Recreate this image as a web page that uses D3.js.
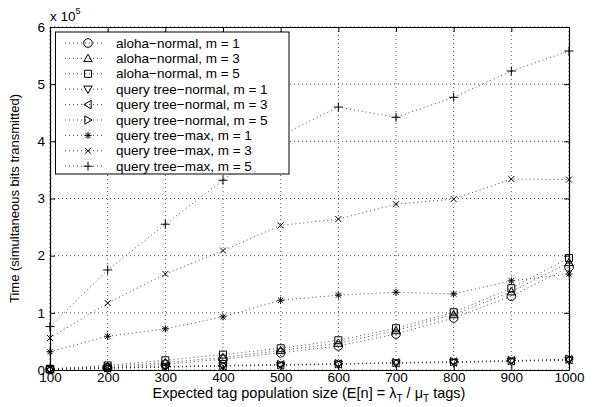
<!DOCTYPE html>
<html>
<head>
<meta charset="utf-8">
<script src="https://cdn.jsdelivr.net/npm/d3@7"></script>
<style>
  body { margin: 0; background: #fff; }
  svg { font-family: "Liberation Sans", Arial, sans-serif; }
</style>
</head>
<body>
<svg id="chart"></svg>
<script>
// tag population sizes (x)
let xValues = [100, 200, 300, 400, 500, 600, 700, 800, 900, 1000]
let xTicks = [100, 200, 300, 400, 500, 600, 700, 800, 900, 1000]
let yTicks = [0, 1, 2, 3, 4, 5, 6]   // x 10^5

// values in units of 10^5
let alohaM1 = [0.01, 0.04, 0.10, 0.19, 0.30, 0.42, 0.63, 0.91, 1.29, 1.80]
let alohaM3 = [0.015, 0.06, 0.13, 0.22, 0.34, 0.47, 0.69, 0.97, 1.37, 1.88]
let alohaM5 = [0.02, 0.08, 0.17, 0.27, 0.38, 0.52, 0.73, 1.01, 1.43, 1.96]
let qtNormM1 = [0.005, 0.03, 0.05, 0.07, 0.08, 0.10, 0.12, 0.13, 0.15, 0.17]
let qtNormM3 = [0.01, 0.035, 0.055, 0.075, 0.09, 0.105, 0.125, 0.14, 0.16, 0.18]
let qtNormM5 = [0.015, 0.04, 0.06, 0.08, 0.095, 0.11, 0.13, 0.145, 0.165, 0.19]
let qtMaxM1 = [0.32, 0.59, 0.72, 0.93, 1.22, 1.31, 1.36, 1.33, 1.56, 1.68]
let qtMaxM3 = [0.56, 1.17, 1.68, 2.09, 2.53, 2.64, 2.90, 2.99, 3.34, 3.33]
let qtMaxM5 = [0.76, 1.75, 2.55, 3.32, 4.10, 4.60, 4.42, 4.77, 5.23, 5.58]

let seriesNames = [
    'aloha\u2212normal, m = 1',
    'aloha\u2212normal, m = 3',
    'aloha\u2212normal, m = 5',
    'query tree\u2212normal, m = 1',
    'query tree\u2212normal, m = 3',
    'query tree\u2212normal, m = 5',
    'query tree\u2212max, m = 1',
    'query tree\u2212max, m = 3',
    'query tree\u2212max, m = 5'
]
let seriesValues = [alohaM1, alohaM3, alohaM5, qtNormM1, qtNormM3, qtNormM5, qtMaxM1, qtMaxM3, qtMaxM5]
let seriesMarkers = ['circle', 'up', 'square', 'down', 'left', 'right', 'star', 'cross', 'plus']

let width = 595
let height = 407
let plotLeft = 50, plotRight = 569, plotTop = 27, plotBottom = 370

let svg = d3.select('#chart').attr('width', width).attr('height', height)

let xScale = d3.scaleLinear().domain([100, 1000]).range([plotLeft, plotRight])
let yScale = d3.scaleLinear().domain([0, 6]).range([plotBottom, plotTop])

// marker path around 0,0
let markerPath = (type) => {
    let s = 4.2
    switch (type) {
        case 'up': return `M0,${-s}L${s},${s * 0.75}L${-s},${s * 0.75}Z`
        case 'down': return `M0,${s}L${s},${-s * 0.75}L${-s},${-s * 0.75}Z`
        case 'left': return `M${-s},0L${s * 0.75},${-s}L${s * 0.75},${s}Z`
        case 'right': return `M${s},0L${-s * 0.75},${-s}L${-s * 0.75},${s}Z`
        case 'square': return 'M-3.5,-3.5H3.5V3.5H-3.5Z'
        case 'cross': return 'M-3,-3L3,3M-3,3L3,-3'
        case 'plus': return 'M-4.5,0H4.5M0,-4.5V4.5'
        case 'star': return 'M-3.5,0H3.5M0,-3.5V3.5M-2.6,-2.6L2.6,2.6M-2.6,2.6L2.6,-2.6'
    }
}

let drawMarker = (g, type, x, y) => {
    if (type === 'circle') {
        g.append('circle').attr('cx', x).attr('cy', y).attr('r', 4.3)
            .attr('fill', 'none').attr('stroke', '#000').attr('stroke-width', 1)
    } else {
        g.append('path').attr('d', markerPath(type))
            .attr('transform', 'translate(' + x + ',' + y + ')')
            .attr('fill', 'none').attr('stroke', '#000').attr('stroke-width', 1)
    }
}

// grid
let grid = svg.append('g')
xTicks.forEach((t) => {
    grid.append('line').attr('x1', xScale(t)).attr('x2', xScale(t))
        .attr('y1', plotTop).attr('y2', plotBottom)
        .attr('stroke', '#000').attr('stroke-width', 0.7).attr('stroke-dasharray', '1,3')
})
yTicks.forEach((t) => {
    grid.append('line').attr('x1', plotLeft).attr('x2', plotRight)
        .attr('y1', yScale(t)).attr('y2', yScale(t))
        .attr('stroke', '#000').attr('stroke-width', 0.7).attr('stroke-dasharray', '1,3')
})

// data lines
let line = d3.line().x((d, i) => xScale(xValues[i])).y((d) => yScale(d))
let plot = svg.append('g')
seriesValues.forEach((vals) => {
    plot.append('path').datum(vals).attr('d', line)
        .attr('fill', 'none').attr('stroke', '#333').attr('stroke-width', 0.9)
        .attr('stroke-dasharray', '1,3')
})
seriesValues.forEach((vals, k) => {
    vals.forEach((v, i) => drawMarker(plot, seriesMarkers[k], xScale(xValues[i]), yScale(v)))
})

// axes (MATLAB style, ticks inside, box)
let xAxisB = d3.axisBottom(xScale).tickValues(xTicks).tickFormat(d3.format('d'))
    .tickSizeInner(-5).tickSizeOuter(0).tickPadding(2)
let xAxisT = d3.axisTop(xScale).tickValues(xTicks).tickSizeInner(-5).tickSizeOuter(0).tickFormat('')
let yAxisL = d3.axisLeft(yScale).tickValues(yTicks).tickFormat(d3.format('d'))
    .tickSizeInner(-5).tickSizeOuter(0).tickPadding(5)
let yAxisR = d3.axisRight(yScale).tickValues(yTicks).tickSizeInner(-5).tickSizeOuter(0).tickFormat('')

svg.append('g').attr('transform', 'translate(0,' + plotBottom + ')').call(xAxisB)
svg.append('g').attr('transform', 'translate(0,' + plotTop + ')').call(xAxisT)
svg.append('g').attr('transform', 'translate(' + plotLeft + ',0)').call(yAxisL)
svg.append('g').attr('transform', 'translate(' + plotRight + ',0)').call(yAxisR)

svg.selectAll('.domain').attr('stroke', '#000').attr('stroke-width', 1.2)
svg.selectAll('.tick line').attr('stroke', '#000')
svg.selectAll('.tick text').attr('font-size', 13.5).attr('fill', '#000')
    .attr('font-family', '"Liberation Sans", Arial, sans-serif')

// x 10^5
let mult = svg.append('text').attr('x', 50).attr('y', 21).attr('font-size', 13.5)
mult.append('tspan').text('x 10')
mult.append('tspan').attr('font-size', 9).attr('dy', -7).text('5')

// axis titles
let xt = svg.append('text').attr('x', 309).attr('y', 398).attr('text-anchor', 'middle').attr('font-size', 14.5)
xt.append('tspan').text('Expected tag population size (E[n] = \u03bb')
xt.append('tspan').attr('font-size', 10).attr('dy', 4).text('T')
xt.append('tspan').attr('dy', -4).text(' / \u03bc')
xt.append('tspan').attr('font-size', 10).attr('dy', 4).text('T')
xt.append('tspan').attr('dy', -4).text(' tags)')

svg.append('text')
    .attr('transform', 'translate(19,' + ((plotTop + plotBottom) / 2) + ') rotate(-90)')
    .attr('text-anchor', 'middle').attr('font-size', 13)
    .text('Time (simultaneous bits transmitted)')

// legend
let lg = svg.append('g')
lg.append('rect').attr('x', 55.5).attr('y', 32).attr('width', 233.5).attr('height', 142)
    .attr('fill', '#fff').attr('stroke', '#000').attr('stroke-width', 1)
seriesNames.forEach((name, k) => {
    let cy = 43 + k * 15.4
    lg.append('line').attr('x1', 65).attr('x2', 103).attr('y1', cy).attr('y2', cy)
        .attr('stroke', '#333').attr('stroke-width', 0.9).attr('stroke-dasharray', '1,3')
    drawMarker(lg, seriesMarkers[k], 88, cy)
    lg.append('text').attr('x', 116).attr('y', cy + 4.5).attr('font-size', 13.5).text(name)
})
</script>
</body>
</html>
